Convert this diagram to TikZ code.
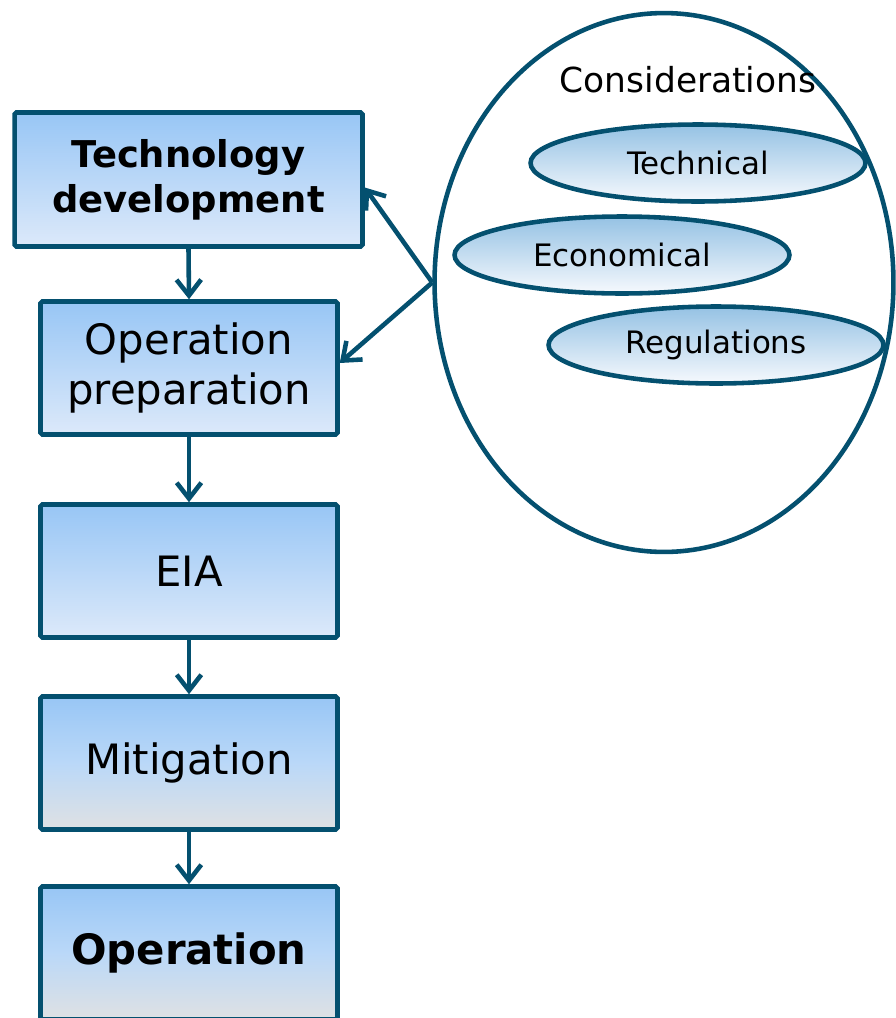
\documentclass[tikz,border=0pt]{standalone}
\usepackage{fontspec}
\setmainfont{DejaVu Sans}
\usetikzlibrary{shapes.geometric, arrows.meta}
\definecolor{edgeblue}{HTML}{04506F}
\definecolor{boxtop}{HTML}{98C6F5}
\definecolor{boxmid}{HTML}{BAD8F8}
\definecolor{boxbot}{HTML}{DCE9FA}
\definecolor{boxgray}{HTML}{DFE1E3}
\definecolor{ovaltop}{HTML}{95C2E4}
\definecolor{ovalbot}{HTML}{F6F9FD}

\begin{document}
\begin{tikzpicture}[x=0.02cm, y=-0.02cm,
  stage/.style={draw=edgeblue, line width=2.6pt, rounded corners=1pt, top color=boxtop, bottom color=boxbot,
    minimum width=5.94cm, minimum height=2.66cm, inner sep=0pt, align=center,
    font=\fontsize{23.8}{28.4}\selectfont},
  late/.style={top color=boxtop, bottom color=boxgray, middle color=boxmid},
  factor/.style={ellipse, draw=edgeblue, line width=2.6pt, top color=ovaltop, bottom color=ovalbot,
    minimum width=6.7cm, minimum height=1.54cm, inner sep=0pt, font=\fontsize{17.6}{20}\selectfont},
  flow/.style={draw=edgeblue, line width=2.6pt, -{Straight Barb[length=9pt,width=14pt]}}]
\useasboundingbox (0,0) rectangle (896,1018);
\node[stage, minimum width=6.96cm, minimum height=2.68cm, font=\fontsize{21}{25.5}\selectfont\bfseries] (tech) at (188.5,179.5) {Technology\\development};
\node[stage] (prep) at (189,368) {Operation\\preparation};
\node[stage] (eia) at (189,571) {EIA};
\node[stage, late] (mitig) at (189,763) {Mitigation};
\node[stage, late, font=\fontsize{23.8}{28.4}\selectfont\bfseries] (oper) at (189,953) {Operation};
% Considerations
\node[ellipse, draw=edgeblue, line width=2.6pt, minimum width=9.18cm, minimum height=10.78cm] (cons) at (664,282.5) {};
\node[font=\fontsize{19.6}{23}\selectfont] (constitle) at (688,80) {Considerations};
\node[factor] (techn) at (698,163) {Technical};
\node[factor] (econ) at (622,255) {Economical};
\node[factor] (regs) at (716,345) {Regulations};
% Arrows
\draw[flow] (tech.south) -- (prep.north);
\draw[flow] (prep.south) -- (eia.north);
\draw[flow] (eia.south) -- (mitig.north);
\draw[flow] (mitig.south) -- (oper.north);
\draw[flow] (cons.west) -- ([yshift=-0.16cm]tech.east);
\draw[flow] (cons.west) -- ([yshift=0.1cm]prep.east);
\end{tikzpicture}
\end{document}
